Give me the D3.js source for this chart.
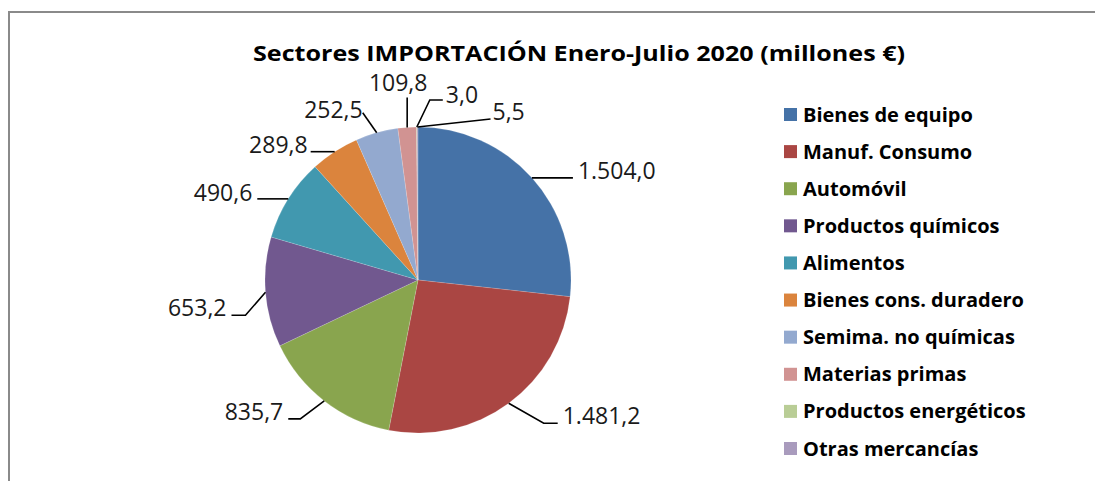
<!DOCTYPE html>
<html>
<head>
<meta charset="utf-8">
<script src="https://d3js.org/d3.v7.min.js"></script>
<style>
  body { margin: 0; background: #fff; }
</style>
</head>
<body>
<svg id="chart" width="1095" height="481"></svg>
<script>
// data (millones de euros)
var sectores = ['Bienes de equipo', 'Manuf. Consumo', 'Automóvil', 'Productos químicos', 'Alimentos',
  'Bienes cons. duradero', 'Semima. no químicas', 'Materias primas', 'Productos energéticos', 'Otras mercancías'];
var valores = [1504.0, 1481.2, 835.7, 653.2, 490.6, 289.8, 252.5, 109.8, 3.0, 5.5];
var colores = ['#4572A7', '#AA4643', '#89A54E', '#71588F', '#4198AF', '#DB843D', '#93A9CF', '#D19392', '#B9CD96', '#A99BBD'];
var titulo = 'Sectores IMPORTACIÓN Enero-Julio 2020 (millones €)';

// label placement (Excel style leader lines): elbow offset from arc point, tail, text nudge
var leaders = [
  {ex: 0, ey: 0, tail: 41, tx: 5, ty: 1},
  {ex: 35, ey: 20, tail: 14, tx: 5, ty: 1},
  {ex: -24, ey: 18, tail: -12, tx: -5, ty: 1},
  {ex: -20, ey: 23, tail: -14, tx: -5, ty: 1},
  {ex: 0, ey: 0, tail: -31, tx: -5, ty: 2},
  {ex: 0, ey: 0, tail: -24, tx: -3, ty: 1},
  {ex: -14, ey: -20, tail: 0, tx: 0, ty: 5},
  {ex: 0, ey: -30, tail: 0, tx: -9, ty: -6, mid: true},
  {ex: 13, ey: -27, tail: 13, tx: 3, ty: 3},
  {ex: 73, ey: -8, tail: 0, tx: 2, ty: 1}
];

var svg = d3.select('#chart');
var cx = 418, cy = 280, r = 153;

var es = d3.formatLocale({decimal: ',', thousands: '.', grouping: [3], currency: ['', '€']});
var fmt = es.format(',.1f');

// frame
svg.append('line').attr('x1', 9).attr('y1', 12).attr('x2', 1095).attr('y2', 12)
  .style('stroke', '#8a8a8a').style('stroke-width', 2);
svg.append('line').attr('x1', 9).attr('y1', 11).attr('x2', 9).attr('y2', 481)
  .style('stroke', '#8a8a8a').style('stroke-width', 2);

// title
svg.append('text')
  .attr('x', 253).attr('y', 61)
  .attr('textLength', 652).attr('lengthAdjust', 'spacingAndGlyphs')
  .style('font-family', 'Open Sans').style('font-weight', 'bold').style('font-size', '21px')
  .style('fill', '#000')
  .text(titulo);

var pie = d3.pie().sort(null).value(function(d) { return d; });
var arcs = pie(valores);
var arc = d3.arc().innerRadius(0).outerRadius(r);

var g = svg.append('g').attr('transform', 'translate(' + cx + ',' + cy + ')');
g.selectAll('path')
  .data(arcs)
  .enter()
  .append('path')
    .attr('d', arc)
    .attr('fill', function(d, i) { return colores[i]; })
    .style('stroke', '#fff').style('stroke-width', 0.3).style('stroke-opacity', 0.5);

// leader lines + labels
arcs.forEach(function(d, i) {
  var a = (d.startAngle + d.endAngle) / 2;
  var px = r * Math.sin(a), py = -r * Math.cos(a);
  var L = leaders[i];
  var ex = px + L.ex, ey = py + L.ey;
  var endx = ex + L.tail;
  g.append('path')
    .attr('d', d3.line()([[px, py], [ex, ey], [endx, ey]]))
    .style('fill', 'none').style('stroke', '#000').style('stroke-width', 1.6);
  var right = L.tail > 0 || L.ex > 0;
  g.append('text')
    .attr('x', endx + L.tx).attr('y', ey + L.ty)
    .attr('text-anchor', L.mid ? 'middle' : (right ? 'start' : 'end'))
    .style('font-family', 'Open Sans').style('font-size', '23px').style('fill', '#1a1a1a')
    .text(fmt(valores[i]));
});

// legend
var ly = d3.scaleLinear().domain([0, sectores.length - 1]).range([114.5, 448.5]);
var leg = svg.append('g');
leg.selectAll('rect')
  .data(sectores)
  .enter()
  .append('rect')
    .attr('x', 784).attr('y', function(d, i) { return ly(i) - 6.5; })
    .attr('width', 13).attr('height', 13)
    .attr('fill', function(d, i) { return colores[i]; });
leg.selectAll('text')
  .data(sectores)
  .enter()
  .append('text')
    .attr('x', 803).attr('y', function(d, i) { return ly(i) + 7; })
    .style('font-family', 'Open Sans').style('font-weight', 'bold').style('font-size', '20px')
    .style('fill', '#000')
    .text(function(d) { return d; });
</script>
</body>
</html>
